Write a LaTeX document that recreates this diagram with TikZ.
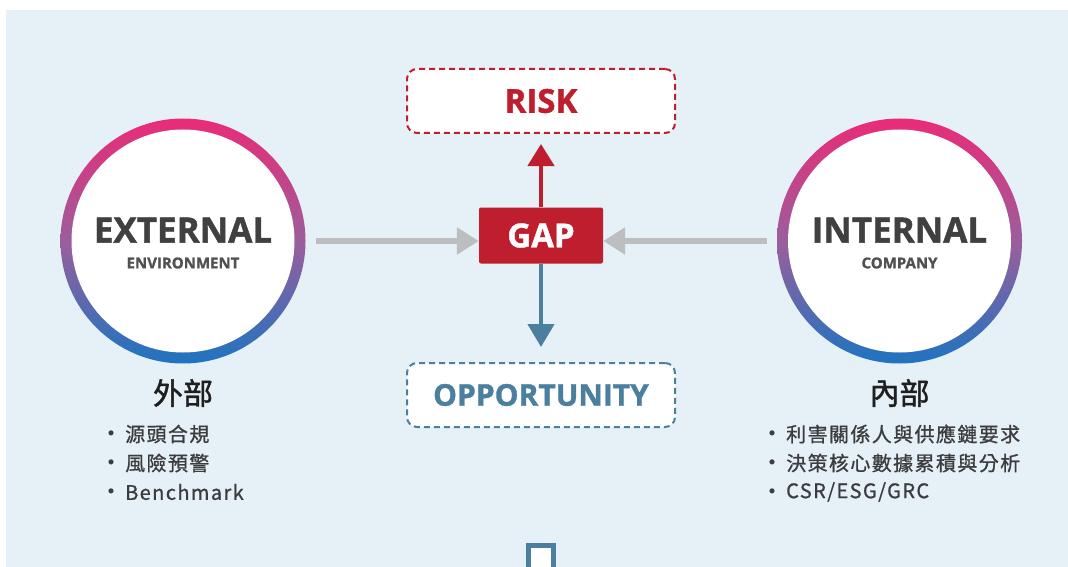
\documentclass[tikz,border=0pt]{standalone}
\usepackage{fontspec}
\setmainfont{Open Sans}[BoldFeatures={FakeBold=1.2}]
\newfontfamily\cjk{Noto Sans CJK TC}[LetterSpace=7, FakeBold=0.9]
\newfontfamily\cjkt{Noto Sans CJK TC}[FakeBold=1.4]
\newfontfamily\cjkb{Noto Sans CJK TC}
\usetikzlibrary{arrows.meta,calc}
\definecolor{bgc}{HTML}{E5F0F7}
\definecolor{riskred}{HTML}{BE1E2D}
\definecolor{oppblue}{HTML}{4A7F9F}
\definecolor{arrgray}{HTML}{BDBEC0}
\definecolor{ringtop}{HTML}{EA2B78}
\definecolor{ringmid}{HTML}{9B5E9C}
\definecolor{ringbot}{HTML}{1E74C0}
\definecolor{darktext}{HTML}{404041}
\definecolor{subtext}{HTML}{505153}
\definecolor{listtext}{HTML}{3C3C3E}
\tikzset{
  ring/.style={circle, inner sep=0pt, minimum size=245pt, top color=ringtop, bottom color=ringbot, middle color=ringmid},
  ringin/.style={circle, inner sep=0pt, minimum size=223pt, fill=white},
  bigword/.style={font=\bfseries\fontsize{35}{35}\selectfont, text=darktext, inner sep=0pt},
  smallword/.style={font=\bfseries\fontsize{15}{15}\selectfont, text=subtext, inner sep=0pt},
  dashbox/.style={fill=white, line width=2pt, dash pattern=on 6pt off 4pt, rounded corners=10pt, minimum width=268pt, minimum height=64pt, inner sep=0pt},
  garrow/.style={draw=arrgray, line width=6pt, -{Triangle[length=22pt,width=26pt]}},
  cjktitle/.style={font=\cjkt\fontsize{30}{30}\selectfont, text=black!88, inner sep=0pt},
  bulletdot/.style={font=\cjkb\fontsize{24}{24}\selectfont, text=listtext, inner sep=0pt},
  listitem/.style={font=\cjk\fontsize{20}{20}\selectfont, text=listtext, inner sep=0pt, anchor=west},
}
\begin{document}
\begin{tikzpicture}[x=1pt,y=-1pt]
\useasboundingbox (0,0) rectangle (1068,567);
\clip (0,0) rectangle (1068,567);
\fill[bgc] (6,10) rectangle (1068,567);
% circles
\node[ring] (extring) at (183,241) {};
\node[ringin] (extin) at (extring) {};
\node[bigword] (extword) at (183,230) {EXTERNAL};
\node[smallword] (extsub) at (183,263) {ENVIRONMENT};
\node[ring] (intring) at (899.5,241) {};
\node[ringin] (intin) at (intring) {};
\node[bigword] (intword) at (899.5,230) {INTERNAL};
\node[smallword] (intsub) at (899.5,263) {COMPANY};
% center
\node[fill=riskred, rounded corners=2pt, minimum width=124pt, minimum height=56pt, inner sep=0pt, text=white, font=\bfseries\fontsize{33}{33}\selectfont] (gap) at (541,235.5) {GAP};
\node[dashbox, draw=riskred, text=riskred, font=\bfseries\fontsize{33}{33}\selectfont] (risk) at (541,101) {RISK};
\node[dashbox, draw=oppblue, text=oppblue, font=\bfseries\fontsize{30}{30}\selectfont] (opp) at (541,395) {OPPORTUNITY};
\coordinate (lstart) at (316,241);
\coordinate (rstart) at (767,241);
\draw[garrow] (lstart) -- (gap.west |- lstart);
\draw[garrow] (rstart) -- (gap.east |- rstart);
\draw[riskred, line width=4.5pt, -{Triangle[length=22pt,width=26pt]}] (gap.north) -- ($(risk.south)+(0,10)$);
\draw[oppblue, line width=4.5pt, -{Triangle[length=23pt,width=26pt]}] (gap.south) -- ($(opp.north)+(0,-15)$);
% labels
\node[cjktitle] (extlabel) at (183,393) {外部};
\node[cjktitle] (intlabel) at (899.5,393) {內部};
\node[bulletdot] (lb1) at (111,437) {・};
\node[bulletdot] (lb2) at (111,466) {・};
\node[bulletdot] (lb3) at (111,495) {・};
\node[listitem] (l1) at (125,434) {源頭合規};
\node[listitem] (l2) at (125,463) {風險預警};
\node[listitem] (l3) at (125,492) {Benchmark};
\node[bulletdot] (rb1) at (772,437) {・};
\node[bulletdot] (rb2) at (772,466) {・};
\node[bulletdot] (rb3) at (772,495) {・};
\node[listitem] (r1) at (786,434) {利害關係人與供應鏈要求};
\node[listitem] (r2) at (786,463) {決策核心數據累積與分析};
\node[listitem] (r3) at (786,492) {CSR/ESG/GRC};
% bottom marker
\node[draw=oppblue, line width=5pt, fill=white, minimum width=25pt, minimum height=40pt, inner sep=0pt, anchor=north] (nextbox) at (541,543) {};
\end{tikzpicture}
\end{document}
